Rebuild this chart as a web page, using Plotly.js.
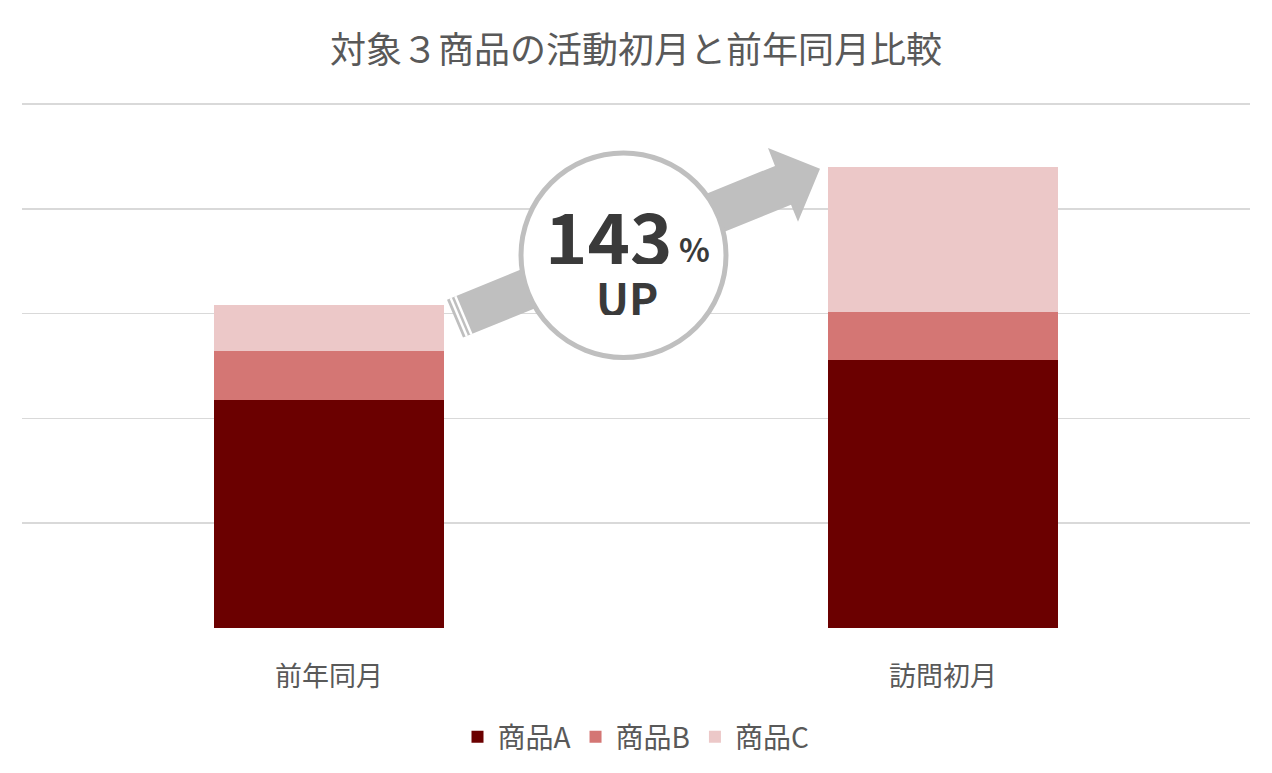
<!DOCTYPE html>
<html>
<head>
<meta charset="utf-8">
<script src="https://cdn.plot.ly/plotly-3.0.1.min.js"></script>
<style>
  html, body { margin: 0; padding: 0; background: #fff; }
  #chart { width: 1272px; height: 773px; }
</style>
</head>
<body>
<div id="chart"></div>
<script>
// data
const categories = ['前年同月', '訪問初月'];
const seriesNames = ['商品A', '商品B', '商品C'];
const valuesA = [2.18, 2.56];
const valuesB = [0.46, 0.46];
const valuesC = [0.44, 1.38];
const seriesColors = ['#6b0000', '#d47674', '#ecc8c8'];
const chartTitle = '対象３商品の活動初月と前年同月比較';
const upPercent = '143';

const W = 1272, H = 773;
const M = { l: 22, r: 22, t: 103, b: 144 };
const FONT = '"Noto Sans CJK JP", "Noto Sans", sans-serif';

// pixel -> paper helpers for the decoration
const plotW = W - M.l - M.r, plotH = H - M.t - M.b;
const px = x => (x - M.l) / plotW;
const py = y => (H - M.b - y) / plotH;

const traces = [valuesA, valuesB, valuesC].map((vals, i) => ({
    type: 'bar',
    name: seriesNames[i],
    x: categories,
    y: vals,
    width: 0.373,
    marker: { color: seriesColors[i] },
    hoverinfo: 'skip'
}));

// arrow behind the circle
const arrowPts = [
    [447, 300], [775, 166], [768, 148], [820, 169],
    [798, 222], [791, 205], [463, 338]
];
const arrowPath = 'M ' + arrowPts.map(p => px(p[0]) + ',' + py(p[1])).join(' L ') + ' Z';

const ux = 0.926, uy = -0.377;
const stripe = off => ({
    type: 'line', xref: 'paper', yref: 'paper',
    x0: px(447 + off * ux), y0: py(300 + off * uy),
    x1: px(463 + off * ux), y1: py(338 + off * uy),
    line: { color: '#ffffff', width: 2.5 }
});

const shapes = [
    { type: 'path', xref: 'paper', yref: 'paper', path: arrowPath,
      fillcolor: '#bfbfbf', line: { width: 0 } },
    stripe(4), stripe(9),
    { type: 'circle', xref: 'paper', yref: 'paper',
      x0: px(521), x1: px(726), y0: py(153), y1: py(358),
      fillcolor: '#ffffff', line: { color: '#bfbfbf', width: 5 } }
];

const badgeFont = size => ({ family: FONT, size: size, color: '#3a3a3a', weight: 'bold' });
const annotations = [
    { xref: 'paper', yref: 'paper', x: px(608), y: py(234), text: upPercent, height: 60,
      xanchor: 'center', yanchor: 'middle', showarrow: false, font: badgeFont(72) },
    { xref: 'paper', yref: 'paper', x: px(694), y: py(248), text: '%', height: 28,
      xanchor: 'center', yanchor: 'middle', showarrow: false, font: badgeFont(32) },
    { xref: 'paper', yref: 'paper', x: px(627), y: py(297), text: 'UP', height: 36,
      xanchor: 'center', yanchor: 'middle', showarrow: false, font: badgeFont(44) }
];

const layout = {
    width: W, height: H,
    margin: M,
    paper_bgcolor: '#ffffff',
    plot_bgcolor: '#ffffff',
    barmode: 'stack',
    title: {
        text: chartTitle,
        x: 0.5, xanchor: 'center',
        y: 1 - 50 / H, yanchor: 'middle',
        font: { family: FONT, size: 36, color: '#595959' }
    },
    xaxis: {
        type: 'category',
        showgrid: false, zeroline: false, showline: false,
        ticks: 'outside', ticklen: 25, tickcolor: 'rgba(0,0,0,0)',
        tickfont: { family: FONT, size: 27, color: '#595959' }
    },
    yaxis: {
        range: [0, 5.01], dtick: 1,
        showgrid: true, gridcolor: '#d9d9d9', gridwidth: 1.5,
        zeroline: false, showline: false, showticklabels: false, fixedrange: true
    },
    showlegend: true,
    legend: {
        orientation: 'h',
        x: 0.5, xanchor: 'center',
        y: py(737), yanchor: 'middle',
        font: { family: FONT, size: 28, color: '#595959' },
        itemwidth: 30,
        traceorder: 'normal'
    },
    shapes: shapes,
    annotations: annotations
};

Plotly.newPlot('chart', traces, layout, { staticPlot: true });
</script>
</body>
</html>
